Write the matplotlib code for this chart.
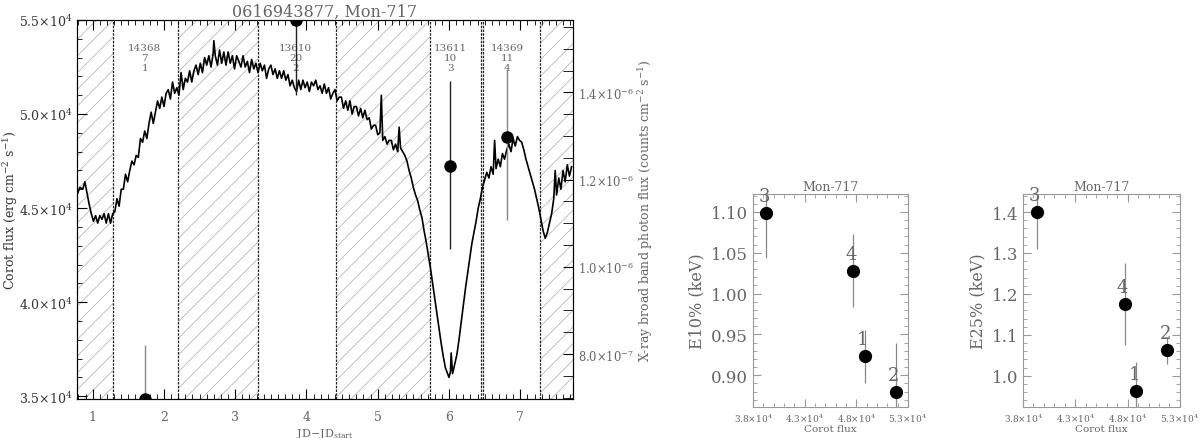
import numpy as np
import matplotlib
matplotlib.use('Agg')
import matplotlib.pyplot as plt
from matplotlib.ticker import MultipleLocator, FuncFormatter, FixedLocator

plt.rcParams['font.family'] = ['DejaVu Serif']
plt.rcParams['mathtext.fontset'] = 'dejavuserif'
plt.rcParams['hatch.linewidth'] = 0.6

# CoRoT light curve (JD - JD_start, flux in 1e4 erg cm-2 s-1)
lc_t = [0.78, 0.82, 0.86, 0.89, 0.92, 0.95, 0.98, 1.01, 1.04, 1.07, 1.10, 1.13, 1.16, 1.19,
        1.22, 1.25, 1.28, 1.31, 1.34, 1.37, 1.40, 1.43, 1.46, 1.49, 1.52, 1.55, 1.58, 1.61,
        1.64, 1.67, 1.70, 1.73, 1.76, 1.79, 1.82, 1.85, 1.88, 1.91, 1.94, 1.97, 2.00, 2.03,
        2.06, 2.09, 2.12, 2.15, 2.18, 2.21, 2.24, 2.27, 2.30, 2.33, 2.36, 2.39, 2.42, 2.45,
        2.48, 2.51, 2.54, 2.57, 2.60, 2.63, 2.66, 2.69, 2.70, 2.72, 2.75, 2.78, 2.81, 2.84,
        2.87, 2.90, 2.93, 2.96, 2.99, 3.02, 3.05, 3.08, 3.11, 3.14, 3.17, 3.20, 3.23, 3.26,
        3.29, 3.32, 3.35, 3.38, 3.41, 3.44, 3.47, 3.50, 3.53, 3.56, 3.59, 3.62, 3.65, 3.68,
        3.71, 3.74, 3.77, 3.80, 3.83, 3.86, 3.89, 3.92, 3.95, 3.98, 4.01, 4.04, 4.07, 4.10,
        4.13, 4.16, 4.19, 4.22, 4.25, 4.28, 4.31, 4.34, 4.37, 4.40, 4.43, 4.46, 4.49, 4.52,
        4.55, 4.58, 4.61, 4.64, 4.67, 4.70, 4.73, 4.76, 4.79, 4.82, 4.85, 4.88, 4.91, 4.94,
        4.97, 5.00, 5.03, 5.05, 5.07, 5.10, 5.13, 5.16, 5.19, 5.22, 5.25, 5.28, 5.30, 5.32,
        5.35, 5.38, 5.41, 5.44, 5.47, 5.50, 5.53, 5.56, 5.59, 5.62, 5.65, 5.68, 5.71, 5.74,
        5.77, 5.80, 5.83, 5.86, 5.89, 5.92, 5.95, 5.98, 6.00, 6.02, 6.03, 6.05, 6.08, 6.11,
        6.14, 6.17, 6.20, 6.23, 6.26, 6.29, 6.32, 6.35, 6.38, 6.41, 6.44, 6.47, 6.50, 6.53,
        6.56, 6.59, 6.62, 6.64, 6.66, 6.69, 6.72, 6.75, 6.78, 6.81, 6.84, 6.87, 6.90, 6.93,
        6.96, 6.99, 7.02, 7.05, 7.08, 7.11, 7.14, 7.17, 7.20, 7.23, 7.26, 7.29, 7.32, 7.35,
        7.38, 7.41, 7.44, 7.47, 7.49, 7.51, 7.54, 7.57, 7.60, 7.63, 7.66, 7.69, 7.72]
lc_f = [4.57, 4.61, 4.60, 4.64, 4.58, 4.52, 4.47, 4.43, 4.46, 4.42, 4.46, 4.44, 4.47, 4.42,
        4.47, 4.42, 4.47, 4.48, 4.55, 4.51, 4.60, 4.60, 4.68, 4.64, 4.70, 4.75, 4.73, 4.78,
        4.77, 4.87, 4.85, 4.91, 4.87, 4.95, 5.01, 4.95, 5.01, 5.07, 5.03, 5.09, 5.04, 5.11,
        5.13, 5.08, 5.17, 5.11, 5.14, 5.10, 5.22, 5.13, 5.19, 5.17, 5.23, 5.17, 5.23, 5.26,
        5.21, 5.27, 5.22, 5.30, 5.26, 5.31, 5.25, 5.32, 5.39, 5.31, 5.26, 5.34, 5.27, 5.33,
        5.26, 5.33, 5.27, 5.31, 5.24, 5.31, 5.28, 5.25, 5.31, 5.25, 5.28, 5.22, 5.29, 5.24,
        5.27, 5.22, 5.27, 5.23, 5.26, 5.19, 5.24, 5.26, 5.21, 5.24, 5.19, 5.23, 5.19, 5.23,
        5.18, 5.21, 5.15, 5.18, 5.14, 5.12, 5.18, 5.13, 5.18, 5.14, 5.17, 5.12, 5.17, 5.15,
        5.18, 5.13, 5.15, 5.11, 5.16, 5.11, 5.14, 5.08, 5.11, 5.13, 5.07, 5.09, 5.09, 5.03,
        5.07, 5.02, 5.07, 5.00, 5.04, 5.04, 4.99, 5.03, 4.98, 5.02, 4.97, 4.98, 4.92, 4.94,
        4.94, 4.89, 4.90, 5.10, 4.86, 4.88, 4.84, 4.86, 4.86, 4.81, 4.84, 4.80, 4.93, 4.82,
        4.80, 4.78, 4.75, 4.70, 4.66, 4.61, 4.57, 4.54, 4.49, 4.45, 4.38, 4.32, 4.25, 4.18,
        4.10, 4.02, 3.94, 3.86, 3.78, 3.71, 3.65, 3.62, 3.60, 3.63, 3.73, 3.62, 3.67, 3.72,
        3.80, 3.89, 3.98, 4.07, 4.15, 4.23, 4.31, 4.37, 4.43, 4.50, 4.55, 4.61, 4.65, 4.69,
        4.66, 4.72, 4.68, 4.86, 4.71, 4.76, 4.72, 4.79, 4.76, 4.81, 4.84, 4.80, 4.87, 4.83,
        4.88, 4.86, 4.85, 4.81, 4.76, 4.72, 4.68, 4.64, 4.60, 4.55, 4.50, 4.44, 4.38, 4.34,
        4.37, 4.42, 4.47, 4.55, 4.70, 4.57, 4.66, 4.60, 4.70, 4.64, 4.73, 4.67, 4.72]

# Chandra observations
obs_start = [1.29, 3.32, 5.73, 6.47]
obs_end = [2.20, 4.42, 6.445, 7.27]
obs_ids = ['14368', '13610', '13611', '14369']
obs_cts = ['7', '20', '10', '11']
seg_no = ['1', '2', '3', '4']

# X-ray photon flux per segment
xr_t = [1.73, 3.85, 6.02, 6.82]
xr_flux = [0.697e-6, 1.565e-6, 1.232e-6, 1.297e-6]
xr_err_lo = [0.12e-6, 0.17e-6, 0.19e-6, 0.19e-6]
xr_err_hi = [0.123e-6, 0.17e-6, 0.193e-6, 0.156e-6]

# energy quantiles vs corot flux
corot_flux = [4.88e4, 5.18e4, 3.93e4, 4.77e4]
e10 = [0.923, 0.880, 1.099, 1.028]
e10_err = [0.032, 0.06, 0.055, 0.045]
e25 = [0.963, 1.063, 1.400, 1.176]
e25_err = [0.07, 0.033, 0.09, 0.10]

gray = '#666666'
xmin, xmax = 0.78, 7.74

fig = plt.figure(figsize=(12, 4.39), dpi=100)
ax = fig.add_axes([0.0642, 0.0888, 0.4133, 0.8634])

# hatched gaps between observations
edges = [xmin] + [v for pair in zip(obs_start, obs_end) for v in pair] + [xmax]
for i in range(0, len(edges), 2):
    ax.axvspan(edges[i], edges[i + 1], facecolor='none', edgecolor='#b8b8b8',
               hatch='//', linewidth=0, zorder=0)
for v in obs_start + obs_end:
    ax.axvline(v, color='#222222', lw=0.9, ls=(0, (2, 1)), zorder=1)

ax.plot(lc_t, np.array(lc_f) * 1e4, color='k', lw=1.2, zorder=3)
ax.set_xlim(xmin, xmax)
ax.set_ylim(3.485e4, 5.5e4)
ax.xaxis.set_major_locator(MultipleLocator(1))
ax.xaxis.set_minor_locator(MultipleLocator(0.1))
ax.yaxis.set_major_locator(MultipleLocator(5000))
ax.yaxis.set_minor_locator(MultipleLocator(1000))
ax.yaxis.set_major_formatter(FuncFormatter(lambda v, p: f'{v/1e4:.1f}×10$^{{4}}$'))
ax.tick_params(which='both', direction='in', top=True, right=False, labelsize=9,
               labelcolor='#333333')
ax.tick_params(which='major', length=7)
ax.tick_params(which='minor', length=3.5)
ax.tick_params(axis='x', labelcolor=gray, pad=8, labelsize=9)
ax.set_xlabel('JD$-$JD$_{\\rm start}$', fontsize=8, color=gray, labelpad=2)
ax.set_ylabel('Corot flux (erg cm$^{-2}$ s$^{-1}$)', fontsize=9, color='#333333')
ax.yaxis.set_label_coords(-0.116, 0.5)
ax.set_title('0616943877, Mon-717', fontsize=11.5, color=gray, pad=3)

for t, oid, c, s in zip(xr_t, obs_ids, obs_cts, seg_no):
    ax.text(t, 5.38e4, f'{oid}\n{c}\n{s}', ha='center', va='top', fontsize=7.5,
            color=gray, linespacing=1.2, zorder=4)

ax2 = ax.twinx()
ax2.set_ylim(6.97e-7, 1.566e-6)
ax2.errorbar(xr_t[:2], xr_flux[:2], yerr=[xr_err_lo[:2], xr_err_hi[:2]], fmt='none',
             ecolor=['#888888', '#222222'], elinewidth=1.0)
ax2.errorbar(xr_t[2:], xr_flux[2:], yerr=[xr_err_lo[2:], xr_err_hi[2:]], fmt='none',
             ecolor=['#222222', '#888888'], elinewidth=1.0)
ax2.plot(xr_t, xr_flux, 'o', color='k', ms=8, zorder=5)
ax2.yaxis.set_major_locator(FixedLocator([8e-7, 1.0e-6, 1.2e-6, 1.4e-6]))
ax2.yaxis.set_minor_locator(MultipleLocator(0.05e-6))


def sci_fmt(v, p):
    e = int(np.floor(np.log10(v) + 1e-9))
    return f'{v / 10**e:.1f}×10$^{{{e}}}$'


ax2.yaxis.set_major_formatter(FuncFormatter(sci_fmt))
ax2.tick_params(which='both', direction='in', labelsize=8.3, labelcolor=gray)
ax2.tick_params(which='major', length=7)
ax2.tick_params(which='minor', length=7)
ax2.set_ylabel('X-ray broad band photon flux (counts cm$^{-2}$ s$^{-1}$)', fontsize=9,
               color=gray)
ax2.yaxis.set_label_coords(1.128, 0.5)


def side_panel(rect, yvals, yerrs, ylim, ymaj, ymin_, ylabel, yfmt):
    a = fig.add_axes(rect)
    a.errorbar(corot_flux, yvals, yerr=yerrs, fmt='none', ecolor='#888888', elinewidth=0.9)
    a.plot(corot_flux, yvals, 'o', color='k', ms=8.5, zorder=5)
    for xv, yv, s in zip(corot_flux, yvals, seg_no):
        a.annotate(s, (xv, yv), xytext=(-2, 17), textcoords='offset pixels',
                   ha='center', va='center', fontsize=13, color=gray)
    a.set_xlim(3.8e4, 5.3e4)
    a.set_ylim(*ylim)
    a.xaxis.set_major_locator(FixedLocator([3.8e4, 4.3e4, 4.8e4, 5.3e4]))
    a.xaxis.set_minor_locator(MultipleLocator(1000))
    a.xaxis.set_major_formatter(FuncFormatter(lambda v, p: f'{v/1e4:.1f}×10$^{{4}}$'))
    a.yaxis.set_major_locator(MultipleLocator(ymaj))
    a.yaxis.set_minor_locator(MultipleLocator(ymin_))
    a.yaxis.set_major_formatter(FuncFormatter(lambda v, p: format(v, yfmt)))
    a.tick_params(which='both', direction='in', top=True, right=True, color='#999999')
    a.tick_params(which='major', length=6)
    a.tick_params(which='minor', length=3)
    a.tick_params(axis='x', labelsize=6.5, labelcolor=gray, pad=3)
    a.tick_params(axis='y', labelsize=12, labelcolor=gray)
    for sp in a.spines.values():
        sp.set_color('#999999')
    a.set_xlabel('Corot flux', fontsize=7.5, color=gray, labelpad=0.5)
    a.set_ylabel(ylabel, fontsize=11.5, color=gray)
    a.set_title('Mon-717', fontsize=9, color=gray, pad=3)
    return a


side_panel([0.6275, 0.0706, 0.1292, 0.4852], e10, e10_err, (0.861, 1.122), 0.05, 0.01,
           'E10% (keV)', '.2f')
side_panel([0.8525, 0.0706, 0.1308, 0.4852], e25, e25_err, (0.924, 1.444), 0.1, 0.02,
           'E25% (keV)', '.1f')

fig.savefig('out.png', dpi=100)
